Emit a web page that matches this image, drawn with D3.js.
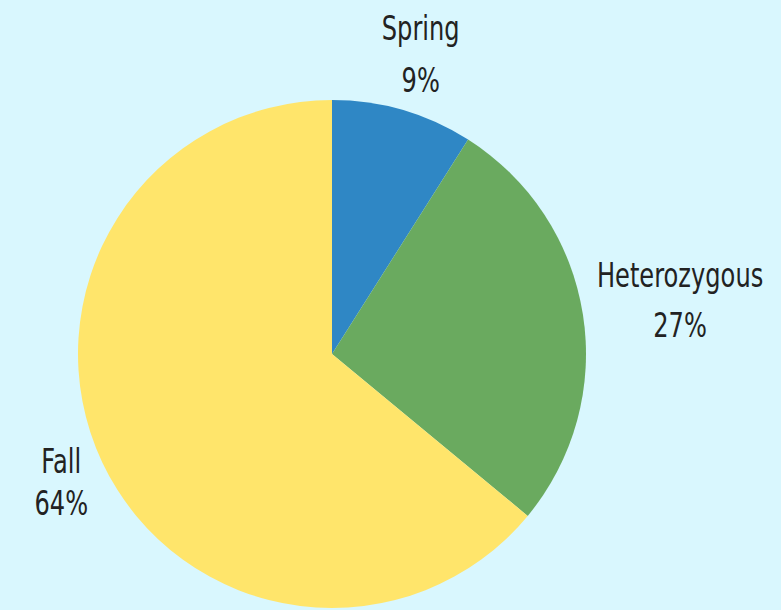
<!DOCTYPE html>
<html>
<head>
<meta charset="utf-8">
<script src="https://cdn.jsdelivr.net/npm/d3@7"></script>
<style>
    html, body { margin: 0; padding: 0; background: #d9f7fe; }
    svg { display: block; }
    .label {
        font-family: "DejaVu Sans", sans-serif;
        font-size: 34px;
        fill: #222;
    }
</style>
</head>
<body>
<div id="chart"></div>
<script>
"use strict";

const categories = ["Spring", "Heterozygous", "Fall"];
const shares = [9, 27, 64];
const colors = ["#2f87c5", "#6aaa5f", "#ffe56b"];

const width = 781, height = 610;
const cx = 332, cy = 354, radius = 254;
const labelRadius = 318;
const squeeze = 0.71; // the original face is condensed

// label nudges from the arc centroid (first baseline), and line gap
const labelLayout = [
    { dx: 0, dy: -9, gap: 52 },
    { dx: 34, dy: -17, gap: 50 },
    { dx: 17, dy: -16, gap: 42 }
];

const svg = d3.select("#chart")
    .append("svg")
    .attr("width", width)
    .attr("height", height);

const data = categories.map((c, i) => ({ name: c, value: shares[i], color: colors[i], layout: labelLayout[i] }));

const pie = d3.pie()
    .sort(null)
    .value(d => d.value);

const arc = d3.arc().innerRadius(0).outerRadius(radius);
const labelArc = d3.arc().innerRadius(labelRadius).outerRadius(labelRadius);

const g = svg.append("g").attr("transform", `translate(${cx},${cy})`);

const arcs = pie(data);

g.selectAll("path.slice")
    .data(arcs)
    .enter()
    .append("path")
    .attr("class", "slice")
    .attr("d", arc)
    .attr("fill", d => d.data.color);

const labels = g.selectAll("text.label")
    .data(arcs)
    .enter()
    .append("text")
    .attr("class", "label")
    .attr("text-anchor", "middle")
    .attr("transform", d => {
        const [x, y] = labelArc.centroid(d);
        return `translate(${x + d.data.layout.dx},${y + d.data.layout.dy}) scale(${squeeze},1)`;
    });

labels.append("tspan")
    .attr("x", 0)
    .attr("y", 0)
    .text(d => d.data.name);

labels.append("tspan")
    .attr("x", 0)
    .attr("y", d => d.data.layout.gap)
    .text(d => d3.format(".0%")(d.data.value / 100));
</script>
</body>
</html>
